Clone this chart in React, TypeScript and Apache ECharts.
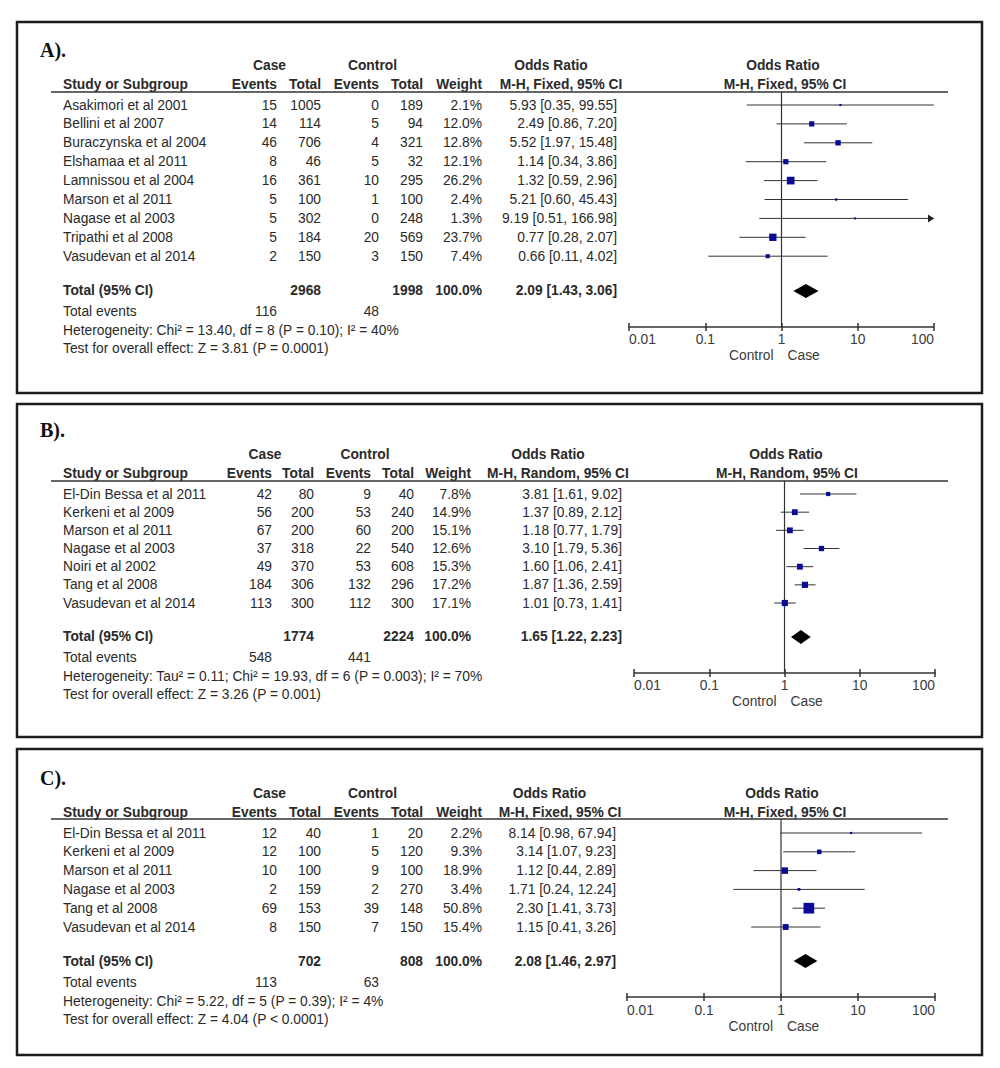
import React, { useEffect, useRef } from "react";
import * as echarts from "echarts";

const FONT = '"Liberation Sans", Arial, Helvetica, sans-serif';
const SERIF = '"Liberation Serif", "Times New Roman", serif';
const TEXT = "#2a2a2a";
const FS = 13.8;

const tickLabels = ["0.01", "0.1", "1", "10", "100"];
const sideLabels = ["Control", "Case"];

// ---------- Panel A ----------
const studiesA = [
  "Asakimori et al 2001",
  "Bellini et al 2007",
  "Buraczynska et al 2004",
  "Elshamaa et al 2011",
  "Lamnissou et al 2004",
  "Marson et al 2011",
  "Nagase et al 2003",
  "Tripathi et al 2008",
  "Vasudevan et al 2014",
];
const caseEventsA = [15, 14, 46, 8, 16, 5, 5, 5, 2];
const caseTotalA = [1005, 114, 706, 46, 361, 100, 302, 184, 150];
const ctrlEventsA = [0, 5, 4, 5, 10, 1, 0, 20, 3];
const ctrlTotalA = [189, 94, 321, 32, 295, 100, 248, 569, 150];
const weightA = [2.1, 12.0, 12.8, 12.1, 26.2, 2.4, 1.3, 23.7, 7.4];
const orA = [5.93, 2.49, 5.52, 1.14, 1.32, 5.21, 9.19, 0.77, 0.66];
const loA = [0.35, 0.86, 1.97, 0.34, 0.59, 0.6, 0.51, 0.28, 0.11];
const hiA = [99.55, 7.2, 15.48, 3.86, 2.96, 45.43, 166.98, 2.07, 4.02];
const totalsA = [2968, 1998];
const totalEventsA = [116, 48];
const pooledA = [2.09, 1.43, 3.06];
const hetA = "Heterogeneity: Chi² = 13.40, df = 8 (P = 0.10); I² = 40%";
const testA = "Test for overall effect: Z = 3.81 (P = 0.0001)";
const methodA = "M-H, Fixed, 95% CI";

// ---------- Panel B ----------
const studiesB = [
  "El-Din Bessa et al 2011",
  "Kerkeni et al 2009",
  "Marson et al 2011",
  "Nagase et al 2003",
  "Noiri et al 2002",
  "Tang et al 2008",
  "Vasudevan et al 2014",
];
const caseEventsB = [42, 56, 67, 37, 49, 184, 113];
const caseTotalB = [80, 200, 200, 318, 370, 306, 300];
const ctrlEventsB = [9, 53, 60, 22, 53, 132, 112];
const ctrlTotalB = [40, 240, 200, 540, 608, 296, 300];
const weightB = [7.8, 14.9, 15.1, 12.6, 15.3, 17.2, 17.1];
const orB = [3.81, 1.37, 1.18, 3.1, 1.6, 1.87, 1.01];
const loB = [1.61, 0.89, 0.77, 1.79, 1.06, 1.36, 0.73];
const hiB = [9.02, 2.12, 1.79, 5.36, 2.41, 2.59, 1.41];
const totalsB = [1774, 2224];
const totalEventsB = [548, 441];
const pooledB = [1.65, 1.22, 2.23];
const hetB = "Heterogeneity: Tau² = 0.11; Chi² = 19.93, df = 6 (P = 0.003); I² = 70%";
const testB = "Test for overall effect: Z = 3.26 (P = 0.001)";
const methodB = "M-H, Random, 95% CI";

// ---------- Panel C ----------
const studiesC = [
  "El-Din Bessa et al 2011",
  "Kerkeni et al 2009",
  "Marson et al 2011",
  "Nagase et al 2003",
  "Tang et al 2008",
  "Vasudevan et al 2014",
];
const caseEventsC = [12, 12, 10, 2, 69, 8];
const caseTotalC = [40, 100, 100, 159, 153, 150];
const ctrlEventsC = [1, 5, 9, 2, 39, 7];
const ctrlTotalC = [20, 120, 100, 270, 148, 150];
const weightC = [2.2, 9.3, 18.9, 3.4, 50.8, 15.4];
const orC = [8.14, 3.14, 1.12, 1.71, 2.3, 1.15];
const loC = [0.98, 1.07, 0.44, 0.24, 1.41, 0.41];
const hiC = [67.94, 9.23, 2.89, 12.24, 3.73, 3.26];
const totalsC = [702, 808];
const totalEventsC = [113, 63];
const pooledC = [2.08, 1.46, 2.97];
const hetC = "Heterogeneity: Chi² = 5.22, df = 5 (P = 0.39); I² = 4%";
const testC = "Test for overall effect: Z = 4.04 (P < 0.0001)";
const methodC = "M-H, Fixed, 95% CI";

const totalWeight = 100.0;

const panels = [
  { label: "A).", studies: studiesA, caseEv: caseEventsA, caseTot: caseTotalA, ctrlEv: ctrlEventsA, ctrlTot: ctrlTotalA, weight: weightA, or: orA, lo: loA, hi: hiA, totals: totalsA, totalEvents: totalEventsA, pooled: pooledA, het: hetA, test: testA, method: methodA },
  { label: "B).", studies: studiesB, caseEv: caseEventsB, caseTot: caseTotalB, ctrlEv: ctrlEventsB, ctrlTot: ctrlTotalB, weight: weightB, or: orB, lo: loB, hi: hiB, totals: totalsB, totalEvents: totalEventsB, pooled: pooledB, het: hetB, test: testB, method: methodB },
  { label: "C).", studies: studiesC, caseEv: caseEventsC, caseTot: caseTotalC, ctrlEv: ctrlEventsC, ctrlTot: ctrlTotalC, weight: weightC, or: orC, lo: loC, hi: hiC, totals: totalsC, totalEvents: totalEventsC, pooled: pooledC, het: hetC, test: testC, method: methodC },
];

// ---------- Layout (pixels) ----------
const layouts = [
  { boxTop: 22, boxBottom: 393, labelY: 50, h1Y: 65, h2Y: 84, ulY: 92, row0Y: 105, rowH: 18.9, totalGap: 0.84,
    cols: [277, 321, 379, 423, 482], orRight: 617, caseC: 269.5, ctrlC: 372.5, or1C: 551, mh1C: 561, or2C: 783, mh2C: 785, axL: 629, axR: 934 },
  { boxTop: 404, boxBottom: 737, labelY: 430, h1Y: 454, h2Y: 473, ulY: 481, row0Y: 494, rowH: 18.17, totalGap: 0.87,
    cols: [272, 314, 371, 414, 471], orRight: 622, caseC: 265, ctrlC: 365, or1C: 548, mh1C: 558, or2C: 786, mh2C: 787, axL: 634, axR: 935 },
  { boxTop: 749, boxBottom: 1055, labelY: 778, h1Y: 793, h2Y: 812, ulY: 819, row0Y: 833, rowH: 18.8, totalGap: 0.81,
    cols: [277, 321, 379, 423, 482], orRight: 616, caseC: 269.5, ctrlC: 372.5, or1C: 549.5, mh1C: 560, or2C: 782, mh2C: 785, axL: 627, axR: 935 },
];
const BOX_L = 17;
const BOX_R = 982;
const NAME_X = 63;
const LABEL_X = 40;
const UL_L = 51;
const UL_R = 948;

function font(bold: boolean, size = FS, fam = FONT) {
  return `${bold ? "bold " : ""}${size}px ${fam}`;
}

function txt(text: string, x: number, y: number, align = "left", bold = false, color = TEXT, f?: string) {
  return {
    type: "text",
    silent: true,
    style: {
      text,
      x,
      y,
      align,
      verticalAlign: "middle",
      textAlign: align,
      textVerticalAlign: "middle",
      font: f || font(bold),
      fill: color,
    },
  };
}

const fmtCI = (o: number, l: number, h: number) => `${o.toFixed(2)} [${l.toFixed(2)}, ${h.toFixed(2)}]`;

function buildOption() {
  const graphic: any[] = [];
  const grid: any[] = [];
  const xAxis: any[] = [];
  const yAxis: any[] = [];
  const series: any[] = [];

  panels.forEach((p, k) => {
    const L = layouts[k];
    const n = p.studies.length;
    const rowY = (r: number) => L.row0Y + r * L.rowH;
    const totalRow = n + L.totalGap;
    const totalY = rowY(totalRow);
    const axisY = totalY + 36;

    graphic.push({
      type: "rect",
      silent: true,
      shape: { x: BOX_L, y: L.boxTop, width: BOX_R - BOX_L, height: L.boxBottom - L.boxTop },
      style: { fill: "none", stroke: "#1c1c1c", lineWidth: 2.5 },
    });
    graphic.push(txt(p.label, LABEL_X, L.labelY, "left", true, "#111", font(true, 20, SERIF)));

    // header row 1
    graphic.push(txt("Case", L.caseC, L.h1Y, "center", true));
    graphic.push(txt("Control", L.ctrlC, L.h1Y, "center", true));
    graphic.push(txt("Odds Ratio", L.or1C, L.h1Y, "center", true));
    graphic.push(txt("Odds Ratio", L.or2C, L.h1Y, "center", true));
    // header row 2
    graphic.push(txt("Study or Subgroup", NAME_X, L.h2Y, "left", true));
    graphic.push(txt("Events", L.cols[0], L.h2Y, "right", true));
    graphic.push(txt("Total", L.cols[1], L.h2Y, "right", true));
    graphic.push(txt("Events", L.cols[2], L.h2Y, "right", true));
    graphic.push(txt("Total", L.cols[3], L.h2Y, "right", true));
    graphic.push(txt("Weight", L.cols[4], L.h2Y, "right", true));
    graphic.push(txt(p.method, L.mh1C, L.h2Y, "center", true));
    graphic.push(txt(p.method, L.mh2C, L.h2Y, "center", true));
    graphic.push({
      type: "line",
      silent: true,
      shape: { x1: UL_L, y1: L.ulY, x2: UL_R, y2: L.ulY },
      style: { stroke: "#333", lineWidth: 1.6 },
    });

    p.studies.forEach((s, i) => {
      const y = rowY(i);
      graphic.push(txt(s, NAME_X, y));
      graphic.push(txt(String(p.caseEv[i]), L.cols[0], y, "right"));
      graphic.push(txt(String(p.caseTot[i]), L.cols[1], y, "right"));
      graphic.push(txt(String(p.ctrlEv[i]), L.cols[2], y, "right"));
      graphic.push(txt(String(p.ctrlTot[i]), L.cols[3], y, "right"));
      graphic.push(txt(p.weight[i].toFixed(1) + "%", L.cols[4], y, "right"));
      graphic.push(txt(fmtCI(p.or[i], p.lo[i], p.hi[i]), L.orRight, y, "right"));
    });

    graphic.push(txt("Total (95% CI)", NAME_X, totalY, "left", true));
    graphic.push(txt(String(p.totals[0]), L.cols[1], totalY, "right", true));
    graphic.push(txt(String(p.totals[1]), L.cols[3], totalY, "right", true));
    graphic.push(txt(totalWeight.toFixed(1) + "%", L.cols[4], totalY, "right", true));
    graphic.push(txt(fmtCI(p.pooled[0], p.pooled[1], p.pooled[2]), L.orRight, totalY, "right", true));

    graphic.push(txt("Total events", NAME_X, totalY + 21));
    graphic.push(txt(String(p.totalEvents[0]), L.cols[0], totalY + 21, "right"));
    graphic.push(txt(String(p.totalEvents[1]), L.cols[2], totalY + 21, "right"));
    graphic.push(txt(p.het, NAME_X, totalY + 40));
    graphic.push(txt(p.test, NAME_X, totalY + 58));

    const x1 = L.axL + (L.axR - L.axL) / 2;
    graphic.push(txt(sideLabels[0], x1 - 8, axisY + 29, "right", false, "#3a3a3a"));
    graphic.push(txt(sideLabels[1], x1 + 6, axisY + 29, "left", false, "#3a3a3a"));

    // ---- forest plot ----
    grid.push({ left: L.axL, width: L.axR - L.axL, top: L.ulY, height: axisY - L.ulY, containLabel: false });
    const baseAxis = {
      type: "log",
      logBase: 10,
      min: 0.01,
      max: 100,
      gridIndex: k,
      position: "bottom",
      splitLine: { show: false },
      minorTick: { show: false },
      minorSplitLine: { show: false },
    };
    xAxis.push({
      ...baseAxis,
      axisLine: { show: true, onZero: false, lineStyle: { color: "#333", width: 1.5 } },
      axisTick: { show: true, inside: false, length: 4, lineStyle: { color: "#333", width: 1.5 } },
      axisLabel: {
        show: true,
        margin: 6,
        color: "#3a3a3a",
        fontSize: FS,
        fontFamily: FONT,
        alignMinLabel: "left",
        alignMaxLabel: "right",
        formatter: (v: number) => tickLabels[Math.round(Math.log10(v)) + 2],
      },
    });
    xAxis.push({
      ...baseAxis,
      axisLine: { show: false, onZero: false },
      axisTick: { show: true, inside: true, length: 4, lineStyle: { color: "#333", width: 1.5 } },
      axisLabel: { show: false },
    });
    yAxis.push({
      type: "value",
      gridIndex: k,
      inverse: true,
      min: (L.ulY - L.row0Y) / L.rowH,
      max: (axisY - L.row0Y) / L.rowH,
      show: false,
    });

    // null line at OR = 1
    series.push({
      type: "custom",
      xAxisIndex: 2 * k,
      yAxisIndex: k,
      data: [[1, 0]],
      encode: { x: 0, y: 1 },
      silent: true,
      clip: false,
      renderItem: (params: any, api: any) => {
        const cs = params.coordSys;
        const x = api.coord([api.value(0), 0])[0];
        return {
          type: "line",
          shape: { x1: x, y1: cs.y, x2: x, y2: cs.y + cs.height },
          style: { stroke: "#333", lineWidth: 1.2 },
        };
      },
    });

    // study CIs and weight squares
    series.push({
      type: "custom",
      xAxisIndex: 2 * k,
      yAxisIndex: k,
      data: p.studies.map((_, i) => [p.or[i], p.lo[i], p.hi[i], p.weight[i], i]),
      encode: { x: 0, y: 4 },
      silent: true,
      clip: false,
      renderItem: (params: any, api: any) => {
        const o = api.value(0);
        const lo = Math.max(api.value(1), 0.01);
        const hiRaw = api.value(2);
        const hi = Math.min(hiRaw, 100);
        const w = api.value(3);
        const r = api.value(4);
        const [xc, y] = api.coord([o, r]);
        const xl = api.coord([lo, r])[0];
        const xr = api.coord([hi, r])[0];
        const s = Math.max(2, 1.5 * Math.sqrt(w));
        const children: any[] = [
          { type: "line", shape: { x1: xl, y1: y, x2: xr, y2: y }, style: { stroke: "#333", lineWidth: 1 } },
          { type: "rect", shape: { x: xc - s / 2, y: y - s / 2, width: s, height: s }, style: { fill: "#0b0b99" } },
        ];
        if (hiRaw > 100) {
          children.push({
            type: "polygon",
            shape: { points: [[xr, y], [xr - 6, y - 4], [xr - 6, y + 4]] },
            style: { fill: "#222" },
          });
        }
        return { type: "group", children };
      },
    });

    // pooled diamond
    series.push({
      type: "custom",
      xAxisIndex: 2 * k,
      yAxisIndex: k,
      data: [[p.pooled[0], p.pooled[1], p.pooled[2], totalRow]],
      encode: { x: 0, y: 3 },
      silent: true,
      clip: false,
      renderItem: (params: any, api: any) => {
        const r = api.value(3);
        const [xc, y] = api.coord([api.value(0), r]);
        const xl = api.coord([api.value(1), r])[0];
        const xr = api.coord([api.value(2), r])[0];
        return {
          type: "polygon",
          shape: { points: [[xl, y], [xc, y - 7], [xr, y], [xc, y + 7]] },
          style: { fill: "#000" },
        };
      },
    });
  });

  return {
    animation: false,
    backgroundColor: "#ffffff",
    graphic: { elements: graphic },
    grid,
    xAxis,
    yAxis,
    series,
  };
}

export default function App() {
  const ref = useRef<HTMLDivElement>(null);
  useEffect(() => {
    document.body.style.margin = "0";
    const chart = echarts.init(ref.current as HTMLDivElement, null, { renderer: "svg" });
    chart.setOption(buildOption() as any);
    return () => chart.dispose();
  }, []);
  return <div ref={ref} style={{ width: 1000, height: 1068, background: "#fff" }} />;
}
